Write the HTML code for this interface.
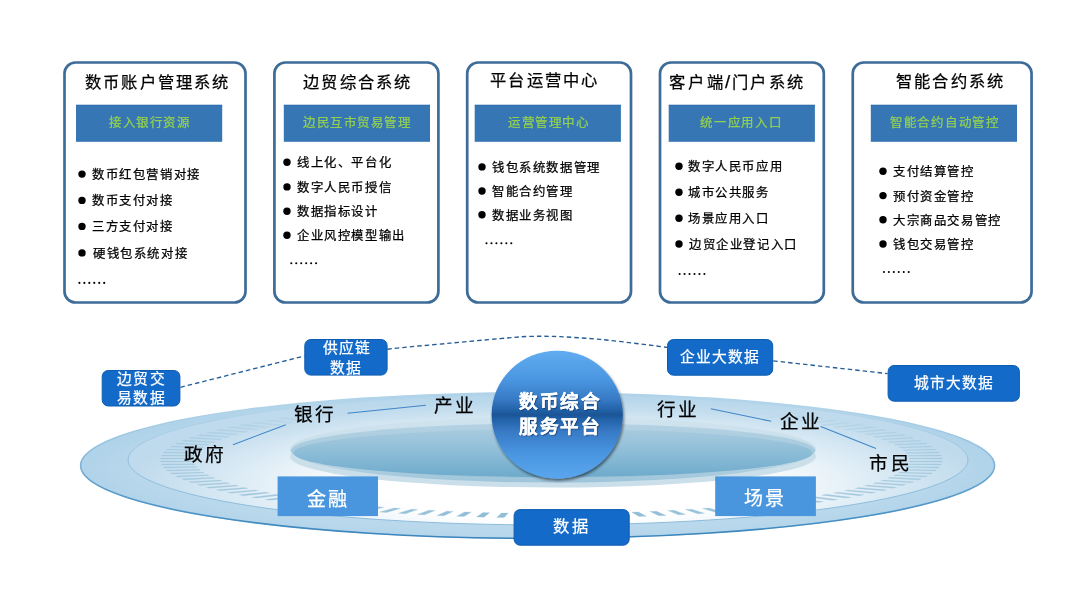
<!DOCTYPE html>
<html lang="zh-CN"><head><meta charset="utf-8">
<style>
html,body{margin:0;padding:0;background:#fff;}
body{width:1080px;height:608px;position:relative;overflow:hidden;font-family:'Liberation Sans',sans-serif;}
.t{position:absolute;line-height:1;white-space:nowrap;will-change:transform;-webkit-text-stroke:0.25px currentColor;}
svg{position:absolute;left:0;top:0;}
</style></head><body>

<svg width="1080" height="608" viewBox="0 0 1080 608">
<defs>
<linearGradient id="outerStroke" x1="0" y1="392" x2="0" y2="539" gradientUnits="userSpaceOnUse">
 <stop offset="0" stop-color="#9cc8e3" stop-opacity="0"/>
 <stop offset="0.35" stop-color="#7ab2d6" stop-opacity="0.5"/>
 <stop offset="0.6" stop-color="#5a9dcc" stop-opacity="0.9"/>
 <stop offset="1" stop-color="#3884bb" stop-opacity="1"/>
</linearGradient>
<radialGradient id="outerFill" gradientUnits="userSpaceOnUse" cx="540" cy="470" r="460" gradientTransform="translate(0,394) scale(1,0.16)">
 <stop offset="0" stop-color="#c6e0f0"/>
 <stop offset="0.85" stop-color="#b9d8ec"/>
 <stop offset="1" stop-color="#b0d3e9"/>
</radialGradient>
<radialGradient id="innerFill" gradientUnits="userSpaceOnUse" cx="557" cy="485" r="430" gradientTransform="translate(0,388) scale(1,0.2)">
 <stop offset="0" stop-color="#ffffff"/>
 <stop offset="0.42" stop-color="#ffffff"/>
 <stop offset="0.6" stop-color="#eef5fa"/>
 <stop offset="0.78" stop-color="#d8e9f4"/>
 <stop offset="0.9" stop-color="#c9e0ef"/>
 <stop offset="1" stop-color="#bfdaec"/>
</radialGradient>
<linearGradient id="p2" x1="0" y1="416.6" x2="0" y2="482.6" gradientUnits="userSpaceOnUse">
 <stop offset="0" stop-color="#d0e4ee"/>
 <stop offset="0.6" stop-color="#c4dce8"/>
 <stop offset="0.85" stop-color="#a9cbde"/>
 <stop offset="1" stop-color="#9ec4d9"/>
</linearGradient>
<linearGradient id="pm" x1="0" y1="423" x2="0" y2="478" gradientUnits="userSpaceOnUse">
 <stop offset="0" stop-color="#b4d2e3"/>
 <stop offset="1" stop-color="#9bc2d8"/>
</linearGradient>
<linearGradient id="p3" x1="0" y1="429" x2="0" y2="477" gradientUnits="userSpaceOnUse">
 <stop offset="0" stop-color="#a8cbdf"/>
 <stop offset="0.5" stop-color="#8dbdd7"/>
 <stop offset="1" stop-color="#6eaacb"/>
</linearGradient>
<linearGradient id="circ" x1="0" y1="350.7" x2="0" y2="478.7" gradientUnits="userSpaceOnUse">
 <stop offset="0" stop-color="#60acf1"/>
 <stop offset="0.22" stop-color="#4c97e1"/>
 <stop offset="0.38" stop-color="#377ac5"/>
 <stop offset="0.46" stop-color="#2363a9"/>
 <stop offset="0.5" stop-color="#1a5596"/>
 <stop offset="0.54" stop-color="#2363a9"/>
 <stop offset="0.63" stop-color="#377ac5"/>
 <stop offset="0.8" stop-color="#4a95e0"/>
 <stop offset="1" stop-color="#5aa6ee"/>
</linearGradient>
<radialGradient id="circEdge" cx="0.5" cy="0.5" r="0.5">
 <stop offset="0.82" stop-color="#000" stop-opacity="0"/>
 <stop offset="1" stop-color="#0a2a50" stop-opacity="0.10"/>
</radialGradient>
<filter id="shadow" x="-20%" y="-20%" width="140%" height="140%">
 <feGaussianBlur in="SourceAlpha" stdDeviation="1.5"/>
 <feOffset dx="0.5" dy="1.5" result="b"/>
 <feComponentTransfer><feFuncA type="linear" slope="0.55"/></feComponentTransfer>
 <feMerge><feMergeNode/><feMergeNode in="SourceGraphic"/></feMerge>
</filter>
<linearGradient id="ringStroke" x1="0" y1="395" x2="0" y2="525" gradientUnits="userSpaceOnUse">
 <stop offset="0" stop-color="#98c3de" stop-opacity="0"/>
 <stop offset="0.3" stop-color="#98c3de" stop-opacity="0.5"/>
 <stop offset="0.5" stop-color="#92c0dc" stop-opacity="1"/>
 <stop offset="1" stop-color="#8cbcda" stop-opacity="1"/>
</linearGradient>
<linearGradient id="topShade" x1="0" y1="392" x2="0" y2="422" gradientUnits="userSpaceOnUse">
 <stop offset="0" stop-color="#afd2e9" stop-opacity="0.85"/>
 <stop offset="0.5" stop-color="#b8d8ec" stop-opacity="0.35"/>
 <stop offset="1" stop-color="#c0dcee" stop-opacity="0"/>
</linearGradient>
</defs>
<rect x="64.5" y="62.5" width="181" height="240" rx="11" ry="11" fill="#fff" stroke="#3e6c99" stroke-width="2.7"/>
<rect x="274.4" y="62.5" width="164" height="240" rx="11" ry="11" fill="#fff" stroke="#3e6c99" stroke-width="2.7"/>
<rect x="467.2" y="62.5" width="163.8" height="240" rx="11" ry="11" fill="#fff" stroke="#3e6c99" stroke-width="2.7"/>
<rect x="660" y="62.5" width="163.8" height="240" rx="11" ry="11" fill="#fff" stroke="#3e6c99" stroke-width="2.7"/>
<rect x="852.75" y="62.5" width="178.8" height="240" rx="11" ry="11" fill="#fff" stroke="#3e6c99" stroke-width="2.7"/>
<rect x="76" y="104.8" width="146.2" height="37" fill="#3676b4"/>
<rect x="76" y="104.8" width="146.2" height="1" fill="#2d69a8" opacity="0.6"/>
<rect x="283.8" y="104.8" width="146.2" height="37" fill="#3676b4"/>
<rect x="283.8" y="104.8" width="146.2" height="1" fill="#2d69a8" opacity="0.6"/>
<rect x="474.7" y="104.8" width="146.2" height="37" fill="#3676b4"/>
<rect x="474.7" y="104.8" width="146.2" height="1" fill="#2d69a8" opacity="0.6"/>
<rect x="668.7" y="104.8" width="146.2" height="37" fill="#3676b4"/>
<rect x="668.7" y="104.8" width="146.2" height="1" fill="#2d69a8" opacity="0.6"/>
<rect x="870.8" y="104.8" width="146.2" height="37" fill="#3676b4"/>
<rect x="870.8" y="104.8" width="146.2" height="1" fill="#2d69a8" opacity="0.6"/>
<circle cx="82" cy="174.1" r="3.7" fill="#000"/>
<circle cx="82" cy="200.4" r="3.7" fill="#000"/>
<circle cx="82" cy="226.4" r="3.7" fill="#000"/>
<circle cx="82" cy="252.9" r="3.7" fill="#000"/>
<circle cx="287" cy="162.3" r="3.7" fill="#000"/>
<circle cx="287" cy="186.9" r="3.7" fill="#000"/>
<circle cx="287" cy="211.3" r="3.7" fill="#000"/>
<circle cx="287" cy="235.3" r="3.7" fill="#000"/>
<circle cx="482" cy="166.9" r="3.7" fill="#000"/>
<circle cx="482" cy="191" r="3.7" fill="#000"/>
<circle cx="482" cy="214.8" r="3.7" fill="#000"/>
<circle cx="679" cy="166.2" r="3.7" fill="#000"/>
<circle cx="679" cy="192.2" r="3.7" fill="#000"/>
<circle cx="679" cy="218.2" r="3.7" fill="#000"/>
<circle cx="679" cy="244" r="3.7" fill="#000"/>
<circle cx="883" cy="171.2" r="3.7" fill="#000"/>
<circle cx="883" cy="195.6" r="3.7" fill="#000"/>
<circle cx="883" cy="219.8" r="3.7" fill="#000"/>
<circle cx="883" cy="244" r="3.7" fill="#000"/>
<circle cx="79.40" cy="282.9" r="1.05" fill="#000"/>
<circle cx="84.36" cy="282.9" r="1.05" fill="#000"/>
<circle cx="89.32" cy="282.9" r="1.05" fill="#000"/>
<circle cx="94.28" cy="282.9" r="1.05" fill="#000"/>
<circle cx="99.24" cy="282.9" r="1.05" fill="#000"/>
<circle cx="104.20" cy="282.9" r="1.05" fill="#000"/>
<circle cx="291.30" cy="263.3" r="1.05" fill="#000"/>
<circle cx="296.26" cy="263.3" r="1.05" fill="#000"/>
<circle cx="301.22" cy="263.3" r="1.05" fill="#000"/>
<circle cx="306.18" cy="263.3" r="1.05" fill="#000"/>
<circle cx="311.14" cy="263.3" r="1.05" fill="#000"/>
<circle cx="316.10" cy="263.3" r="1.05" fill="#000"/>
<circle cx="486.50" cy="243.3" r="1.05" fill="#000"/>
<circle cx="491.46" cy="243.3" r="1.05" fill="#000"/>
<circle cx="496.42" cy="243.3" r="1.05" fill="#000"/>
<circle cx="501.38" cy="243.3" r="1.05" fill="#000"/>
<circle cx="506.34" cy="243.3" r="1.05" fill="#000"/>
<circle cx="511.30" cy="243.3" r="1.05" fill="#000"/>
<circle cx="679.60" cy="274" r="1.05" fill="#000"/>
<circle cx="684.56" cy="274" r="1.05" fill="#000"/>
<circle cx="689.52" cy="274" r="1.05" fill="#000"/>
<circle cx="694.48" cy="274" r="1.05" fill="#000"/>
<circle cx="699.44" cy="274" r="1.05" fill="#000"/>
<circle cx="704.40" cy="274" r="1.05" fill="#000"/>
<circle cx="883.90" cy="272" r="1.05" fill="#000"/>
<circle cx="888.86" cy="272" r="1.05" fill="#000"/>
<circle cx="893.82" cy="272" r="1.05" fill="#000"/>
<circle cx="898.78" cy="272" r="1.05" fill="#000"/>
<circle cx="903.74" cy="272" r="1.05" fill="#000"/>
<circle cx="908.70" cy="272" r="1.05" fill="#000"/>
<ellipse cx="537.6" cy="465.5" rx="457.6" ry="73.5" fill="url(#outerFill)"/>
<ellipse cx="537.6" cy="465.5" rx="457" ry="72.9" fill="none" stroke="url(#outerStroke)" stroke-width="1.6"/>
<ellipse cx="548" cy="460" rx="420" ry="65" fill="url(#innerFill)" stroke="url(#ringStroke)" stroke-width="1"/>
<ellipse cx="537.6" cy="465.5" rx="456.8" ry="72.8" fill="url(#topShade)"/>
<polygon points="909.45,460.89 942.45,460.96 942.25,462.07 909.27,461.91" fill="#7cb1cf" stroke="#7cb1cf" stroke-width="0.2" fill-opacity="0.43" stroke-opacity="0.43"/>
<polygon points="908.65,463.69 941.57,464.00 940.98,465.11 908.11,464.71" fill="#7cb1cf" stroke="#7cb1cf" stroke-width="0.2" fill-opacity="0.43" stroke-opacity="0.43"/>
<polygon points="906.87,466.47 939.63,467.02 938.65,468.12 905.97,467.49" fill="#7cb1cf" stroke="#7cb1cf" stroke-width="0.2" fill-opacity="0.43" stroke-opacity="0.43"/>
<polygon points="904.12,469.24 936.62,470.02 935.25,471.12 902.86,470.25" fill="#7cb1cf" stroke="#7cb1cf" stroke-width="0.2" fill-opacity="0.44" stroke-opacity="0.44"/>
<polygon points="900.39,471.99 932.56,473.00 930.80,474.08 898.79,472.99" fill="#7cb1cf" stroke="#7cb1cf" stroke-width="0.2" fill-opacity="0.45" stroke-opacity="0.45"/>
<polygon points="895.72,474.70 927.45,475.94 925.32,477.01 893.77,475.69" fill="#7cb1cf" stroke="#7cb1cf" stroke-width="0.2" fill-opacity="0.46" stroke-opacity="0.46"/>
<polygon points="890.10,477.37 921.31,478.84 918.80,479.88 887.80,478.34" fill="#7cb1cf" stroke="#7cb1cf" stroke-width="0.2" fill-opacity="0.47" stroke-opacity="0.47"/>
<polygon points="883.55,480.00 914.16,481.68 911.28,482.71 880.92,480.95" fill="#7cb1cf" stroke="#7cb1cf" stroke-width="0.2" fill-opacity="0.49" stroke-opacity="0.49"/>
<polygon points="876.09,482.57 906.01,484.47 902.78,485.47 873.13,483.49" fill="#7cb1cf" stroke="#7cb1cf" stroke-width="0.2" fill-opacity="0.50" stroke-opacity="0.50"/>
<polygon points="867.74,485.08 896.89,487.18 893.31,488.16 864.46,485.98" fill="#7cb1cf" stroke="#7cb1cf" stroke-width="0.2" fill-opacity="0.52" stroke-opacity="0.52"/>
<polygon points="858.53,487.51 886.83,489.83 882.91,490.78 854.94,488.39" fill="#7cb1cf" stroke="#7cb1cf" stroke-width="0.2" fill-opacity="0.54" stroke-opacity="0.54"/>
<polygon points="848.47,489.88 875.84,492.39 871.59,493.31 844.58,490.72" fill="#7cb1cf" stroke="#7cb1cf" stroke-width="0.2" fill-opacity="0.56" stroke-opacity="0.56"/>
<polygon points="837.60,492.16 863.97,494.86 859.40,495.75 833.42,492.97" fill="#7cb1cf" stroke="#7cb1cf" stroke-width="0.2" fill-opacity="0.58" stroke-opacity="0.58"/>
<polygon points="825.94,494.35 851.24,497.24 846.37,498.09 821.48,495.13" fill="#7cb1cf" stroke="#7cb1cf" stroke-width="0.2" fill-opacity="0.60" stroke-opacity="0.60"/>
<polygon points="813.54,496.45 837.69,499.52 832.52,500.33 808.81,497.20" fill="#7cb1cf" stroke="#7cb1cf" stroke-width="0.2" fill-opacity="0.63" stroke-opacity="0.63"/>
<polygon points="800.41,498.45 823.36,501.69 817.91,502.45 795.43,499.16" fill="#7cb1cf" stroke="#7cb1cf" stroke-width="0.2" fill-opacity="0.65" stroke-opacity="0.65"/>
<polygon points="786.60,500.35 808.28,503.74 802.57,504.46 781.38,501.01" fill="#7cb1cf" stroke="#7cb1cf" stroke-width="0.2" fill-opacity="0.67" stroke-opacity="0.67"/>
<polygon points="772.15,502.13 792.49,505.67 786.54,506.35 766.70,502.76" fill="#7cb1cf" stroke="#7cb1cf" stroke-width="0.2" fill-opacity="0.69" stroke-opacity="0.69"/>
<polygon points="757.10,503.80 776.05,507.48 769.86,508.11 751.43,504.38" fill="#7cb1cf" stroke="#7cb1cf" stroke-width="0.2" fill-opacity="0.71" stroke-opacity="0.71"/>
<polygon points="741.48,505.35 758.99,509.16 752.59,509.74 735.62,505.88" fill="#7cb1cf" stroke="#7cb1cf" stroke-width="0.2" fill-opacity="0.73" stroke-opacity="0.73"/>
<polygon points="725.34,506.77 741.36,510.70 734.76,511.23 719.29,507.26" fill="#7cb1cf" stroke="#7cb1cf" stroke-width="0.2" fill-opacity="0.75" stroke-opacity="0.75"/>
<polygon points="708.72,508.06 723.21,512.11 716.43,512.59 702.51,508.51" fill="#7cb1cf" stroke="#7cb1cf" stroke-width="0.2" fill-opacity="0.77" stroke-opacity="0.77"/>
<polygon points="691.67,509.23 704.59,513.37 697.65,513.80 685.32,509.62" fill="#7cb1cf" stroke="#7cb1cf" stroke-width="0.2" fill-opacity="0.79" stroke-opacity="0.79"/>
<polygon points="674.24,510.26 685.55,514.48 678.47,514.86 667.76,510.60" fill="#7cb1cf" stroke="#7cb1cf" stroke-width="0.2" fill-opacity="0.80" stroke-opacity="0.80"/>
<polygon points="656.47,511.15 666.14,515.45 658.95,515.77 649.88,511.44" fill="#7cb1cf" stroke="#7cb1cf" stroke-width="0.2" fill-opacity="0.82" stroke-opacity="0.82"/>
<polygon points="638.41,511.90 646.42,516.26 639.12,516.52 631.73,512.14" fill="#7cb1cf" stroke="#7cb1cf" stroke-width="0.2" fill-opacity="0.83" stroke-opacity="0.83"/>
<polygon points="620.12,512.51 626.44,516.92 619.06,517.13 613.36,512.70" fill="#7cb1cf" stroke="#7cb1cf" stroke-width="0.2" fill-opacity="0.84" stroke-opacity="0.84"/>
<polygon points="601.63,512.97 606.25,517.43 598.81,517.57 594.82,513.11" fill="#7cb1cf" stroke="#7cb1cf" stroke-width="0.2" fill-opacity="0.84" stroke-opacity="0.84"/>
<polygon points="583.01,513.29 585.92,517.77 578.43,517.86 576.16,513.37" fill="#7cb1cf" stroke="#7cb1cf" stroke-width="0.2" fill-opacity="0.85" stroke-opacity="0.85"/>
<polygon points="564.31,513.47 565.49,517.96 557.98,517.99 557.44,513.49" fill="#7cb1cf" stroke="#7cb1cf" stroke-width="0.2" fill-opacity="0.85" stroke-opacity="0.85"/>
<polygon points="545.56,513.49 545.02,517.99 537.51,517.96 538.69,513.47" fill="#7cb1cf" stroke="#7cb1cf" stroke-width="0.2" fill-opacity="0.85" stroke-opacity="0.85"/>
<polygon points="526.84,513.37 524.57,517.86 517.08,517.77 519.99,513.29" fill="#7cb1cf" stroke="#7cb1cf" stroke-width="0.2" fill-opacity="0.85" stroke-opacity="0.85"/>
<polygon points="508.18,513.11 504.19,517.57 496.75,517.43 501.37,512.97" fill="#7cb1cf" stroke="#7cb1cf" stroke-width="0.2" fill-opacity="0.84" stroke-opacity="0.84"/>
<polygon points="489.64,512.70 483.94,517.13 476.56,516.92 482.88,512.51" fill="#7cb1cf" stroke="#7cb1cf" stroke-width="0.2" fill-opacity="0.84" stroke-opacity="0.84"/>
<polygon points="471.27,512.14 463.88,516.52 456.58,516.26 464.59,511.90" fill="#7cb1cf" stroke="#7cb1cf" stroke-width="0.2" fill-opacity="0.83" stroke-opacity="0.83"/>
<polygon points="453.12,511.44 444.05,515.77 436.86,515.45 446.53,511.15" fill="#7cb1cf" stroke="#7cb1cf" stroke-width="0.2" fill-opacity="0.82" stroke-opacity="0.82"/>
<polygon points="435.24,510.60 424.53,514.86 417.45,514.48 428.76,510.26" fill="#7cb1cf" stroke="#7cb1cf" stroke-width="0.2" fill-opacity="0.80" stroke-opacity="0.80"/>
<polygon points="417.68,509.62 405.35,513.80 398.41,513.37 411.33,509.23" fill="#7cb1cf" stroke="#7cb1cf" stroke-width="0.2" fill-opacity="0.79" stroke-opacity="0.79"/>
<polygon points="400.49,508.51 386.57,512.59 379.79,512.11 394.28,508.06" fill="#7cb1cf" stroke="#7cb1cf" stroke-width="0.2" fill-opacity="0.77" stroke-opacity="0.77"/>
<polygon points="383.71,507.26 368.24,511.23 361.64,510.70 377.66,506.77" fill="#7cb1cf" stroke="#7cb1cf" stroke-width="0.2" fill-opacity="0.75" stroke-opacity="0.75"/>
<polygon points="367.38,505.88 350.41,509.74 344.01,509.16 361.52,505.35" fill="#7cb1cf" stroke="#7cb1cf" stroke-width="0.2" fill-opacity="0.73" stroke-opacity="0.73"/>
<polygon points="351.57,504.38 333.14,508.11 326.95,507.48 345.90,503.80" fill="#7cb1cf" stroke="#7cb1cf" stroke-width="0.2" fill-opacity="0.71" stroke-opacity="0.71"/>
<polygon points="336.30,502.76 316.46,506.35 310.51,505.67 330.85,502.13" fill="#7cb1cf" stroke="#7cb1cf" stroke-width="0.2" fill-opacity="0.69" stroke-opacity="0.69"/>
<polygon points="321.62,501.01 300.43,504.46 294.72,503.74 316.40,500.35" fill="#7cb1cf" stroke="#7cb1cf" stroke-width="0.2" fill-opacity="0.67" stroke-opacity="0.67"/>
<polygon points="307.57,499.16 285.09,502.45 279.64,501.69 302.59,498.45" fill="#7cb1cf" stroke="#7cb1cf" stroke-width="0.2" fill-opacity="0.65" stroke-opacity="0.65"/>
<polygon points="294.19,497.20 270.48,500.33 265.31,499.52 289.46,496.45" fill="#7cb1cf" stroke="#7cb1cf" stroke-width="0.2" fill-opacity="0.63" stroke-opacity="0.63"/>
<polygon points="281.52,495.13 256.63,498.09 251.76,497.24 277.06,494.35" fill="#7cb1cf" stroke="#7cb1cf" stroke-width="0.2" fill-opacity="0.60" stroke-opacity="0.60"/>
<polygon points="269.58,492.97 243.60,495.75 239.03,494.86 265.40,492.16" fill="#7cb1cf" stroke="#7cb1cf" stroke-width="0.2" fill-opacity="0.58" stroke-opacity="0.58"/>
<polygon points="258.42,490.72 231.41,493.31 227.16,492.39 254.53,489.88" fill="#7cb1cf" stroke="#7cb1cf" stroke-width="0.2" fill-opacity="0.56" stroke-opacity="0.56"/>
<polygon points="248.06,488.39 220.09,490.78 216.17,489.83 244.47,487.51" fill="#7cb1cf" stroke="#7cb1cf" stroke-width="0.2" fill-opacity="0.54" stroke-opacity="0.54"/>
<polygon points="238.54,485.98 209.69,488.16 206.11,487.18 235.26,485.08" fill="#7cb1cf" stroke="#7cb1cf" stroke-width="0.2" fill-opacity="0.52" stroke-opacity="0.52"/>
<polygon points="229.87,483.49 200.22,485.47 196.99,484.47 226.91,482.57" fill="#7cb1cf" stroke="#7cb1cf" stroke-width="0.2" fill-opacity="0.50" stroke-opacity="0.50"/>
<polygon points="222.08,480.95 191.72,482.71 188.84,481.68 219.45,480.00" fill="#7cb1cf" stroke="#7cb1cf" stroke-width="0.2" fill-opacity="0.49" stroke-opacity="0.49"/>
<polygon points="215.20,478.34 184.20,479.88 181.69,478.84 212.90,477.37" fill="#7cb1cf" stroke="#7cb1cf" stroke-width="0.2" fill-opacity="0.47" stroke-opacity="0.47"/>
<polygon points="209.23,475.69 177.68,477.01 175.55,475.94 207.28,474.70" fill="#7cb1cf" stroke="#7cb1cf" stroke-width="0.2" fill-opacity="0.46" stroke-opacity="0.46"/>
<polygon points="204.21,472.99 172.20,474.08 170.44,473.00 202.61,471.99" fill="#7cb1cf" stroke="#7cb1cf" stroke-width="0.2" fill-opacity="0.45" stroke-opacity="0.45"/>
<polygon points="200.14,470.25 167.75,471.12 166.38,470.02 198.88,469.24" fill="#7cb1cf" stroke="#7cb1cf" stroke-width="0.2" fill-opacity="0.44" stroke-opacity="0.44"/>
<polygon points="197.03,467.49 164.35,468.12 163.37,467.02 196.13,466.47" fill="#7cb1cf" stroke="#7cb1cf" stroke-width="0.2" fill-opacity="0.43" stroke-opacity="0.43"/>
<polygon points="194.89,464.71 162.02,465.11 161.43,464.00 194.35,463.69" fill="#7cb1cf" stroke="#7cb1cf" stroke-width="0.2" fill-opacity="0.43" stroke-opacity="0.43"/>
<polygon points="193.73,461.91 160.75,462.07 160.55,460.96 193.55,460.89" fill="#7cb1cf" stroke="#7cb1cf" stroke-width="0.2" fill-opacity="0.43" stroke-opacity="0.43"/>
<polygon points="193.55,459.11 160.55,459.04 160.75,457.93 193.73,458.09" fill="#7cb1cf" stroke="#7cb1cf" stroke-width="0.2" fill-opacity="0.41" stroke-opacity="0.41"/>
<polygon points="194.35,456.31 161.43,456.00 162.02,454.89 194.89,455.29" fill="#7cb1cf" stroke="#7cb1cf" stroke-width="0.2" fill-opacity="0.39" stroke-opacity="0.39"/>
<polygon points="196.13,453.53 163.37,452.98 164.35,451.88 197.03,452.51" fill="#7cb1cf" stroke="#7cb1cf" stroke-width="0.2" fill-opacity="0.37" stroke-opacity="0.37"/>
<polygon points="198.88,450.76 166.38,449.98 167.75,448.88 200.14,449.75" fill="#7cb1cf" stroke="#7cb1cf" stroke-width="0.2" fill-opacity="0.34" stroke-opacity="0.34"/>
<polygon points="202.61,448.01 170.44,447.00 172.20,445.92 204.21,447.01" fill="#7cb1cf" stroke="#7cb1cf" stroke-width="0.2" fill-opacity="0.33" stroke-opacity="0.33"/>
<polygon points="207.28,445.30 175.55,444.06 177.68,442.99 209.23,444.31" fill="#7cb1cf" stroke="#7cb1cf" stroke-width="0.2" fill-opacity="0.31" stroke-opacity="0.31"/>
<polygon points="212.90,442.63 181.69,441.16 184.20,440.12 215.20,441.66" fill="#7cb1cf" stroke="#7cb1cf" stroke-width="0.2" fill-opacity="0.29" stroke-opacity="0.29"/>
<polygon points="219.45,440.00 188.84,438.32 191.72,437.29 222.08,439.05" fill="#7cb1cf" stroke="#7cb1cf" stroke-width="0.2" fill-opacity="0.27" stroke-opacity="0.27"/>
<polygon points="226.91,437.43 196.99,435.53 200.22,434.53 229.87,436.51" fill="#7cb1cf" stroke="#7cb1cf" stroke-width="0.2" fill-opacity="0.25" stroke-opacity="0.25"/>
<polygon points="235.26,434.92 206.11,432.82 209.69,431.84 238.54,434.02" fill="#7cb1cf" stroke="#7cb1cf" stroke-width="0.2" fill-opacity="0.23" stroke-opacity="0.23"/>
<polygon points="244.47,432.49 216.17,430.17 220.09,429.22 248.06,431.61" fill="#7cb1cf" stroke="#7cb1cf" stroke-width="0.2" fill-opacity="0.21" stroke-opacity="0.21"/>
<polygon points="254.53,430.12 227.16,427.61 231.41,426.69 258.42,429.28" fill="#7cb1cf" stroke="#7cb1cf" stroke-width="0.2" fill-opacity="0.19" stroke-opacity="0.19"/>
<polygon points="265.40,427.84 239.03,425.14 243.60,424.25 269.58,427.03" fill="#7cb1cf" stroke="#7cb1cf" stroke-width="0.2" fill-opacity="0.17" stroke-opacity="0.17"/>
<polygon points="277.06,425.65 251.76,422.76 256.63,421.91 281.52,424.87" fill="#7cb1cf" stroke="#7cb1cf" stroke-width="0.2" fill-opacity="0.14" stroke-opacity="0.14"/>
<polygon points="289.46,423.55 265.31,420.48 270.48,419.67 294.19,422.80" fill="#7cb1cf" stroke="#7cb1cf" stroke-width="0.2" fill-opacity="0.12" stroke-opacity="0.12"/>
<polygon points="302.59,421.55 279.64,418.31 285.09,417.55 307.57,420.84" fill="#7cb1cf" stroke="#7cb1cf" stroke-width="0.2" fill-opacity="0.10" stroke-opacity="0.10"/>
<polygon points="316.40,419.65 294.72,416.26 300.43,415.54 321.62,418.99" fill="#7cb1cf" stroke="#7cb1cf" stroke-width="0.2" fill-opacity="0.07" stroke-opacity="0.07"/>
<polygon points="330.85,417.87 310.51,414.33 316.46,413.65 336.30,417.24" fill="#7cb1cf" stroke="#7cb1cf" stroke-width="0.2" fill-opacity="0.05" stroke-opacity="0.05"/>
<polygon points="345.90,416.20 326.95,412.52 333.14,411.89 351.57,415.62" fill="#7cb1cf" stroke="#7cb1cf" stroke-width="0.2" fill-opacity="0.02" stroke-opacity="0.02"/>
<polygon points="751.43,415.62 769.86,411.89 776.05,412.52 757.10,416.20" fill="#7cb1cf" stroke="#7cb1cf" stroke-width="0.2" fill-opacity="0.02" stroke-opacity="0.02"/>
<polygon points="766.70,417.24 786.54,413.65 792.49,414.33 772.15,417.87" fill="#7cb1cf" stroke="#7cb1cf" stroke-width="0.2" fill-opacity="0.05" stroke-opacity="0.05"/>
<polygon points="781.38,418.99 802.57,415.54 808.28,416.26 786.60,419.65" fill="#7cb1cf" stroke="#7cb1cf" stroke-width="0.2" fill-opacity="0.07" stroke-opacity="0.07"/>
<polygon points="795.43,420.84 817.91,417.55 823.36,418.31 800.41,421.55" fill="#7cb1cf" stroke="#7cb1cf" stroke-width="0.2" fill-opacity="0.10" stroke-opacity="0.10"/>
<polygon points="808.81,422.80 832.52,419.67 837.69,420.48 813.54,423.55" fill="#7cb1cf" stroke="#7cb1cf" stroke-width="0.2" fill-opacity="0.12" stroke-opacity="0.12"/>
<polygon points="821.48,424.87 846.37,421.91 851.24,422.76 825.94,425.65" fill="#7cb1cf" stroke="#7cb1cf" stroke-width="0.2" fill-opacity="0.14" stroke-opacity="0.14"/>
<polygon points="833.42,427.03 859.40,424.25 863.97,425.14 837.60,427.84" fill="#7cb1cf" stroke="#7cb1cf" stroke-width="0.2" fill-opacity="0.17" stroke-opacity="0.17"/>
<polygon points="844.58,429.28 871.59,426.69 875.84,427.61 848.47,430.12" fill="#7cb1cf" stroke="#7cb1cf" stroke-width="0.2" fill-opacity="0.19" stroke-opacity="0.19"/>
<polygon points="854.94,431.61 882.91,429.22 886.83,430.17 858.53,432.49" fill="#7cb1cf" stroke="#7cb1cf" stroke-width="0.2" fill-opacity="0.21" stroke-opacity="0.21"/>
<polygon points="864.46,434.02 893.31,431.84 896.89,432.82 867.74,434.92" fill="#7cb1cf" stroke="#7cb1cf" stroke-width="0.2" fill-opacity="0.23" stroke-opacity="0.23"/>
<polygon points="873.13,436.51 902.78,434.53 906.01,435.53 876.09,437.43" fill="#7cb1cf" stroke="#7cb1cf" stroke-width="0.2" fill-opacity="0.25" stroke-opacity="0.25"/>
<polygon points="880.92,439.05 911.28,437.29 914.16,438.32 883.55,440.00" fill="#7cb1cf" stroke="#7cb1cf" stroke-width="0.2" fill-opacity="0.27" stroke-opacity="0.27"/>
<polygon points="887.80,441.66 918.80,440.12 921.31,441.16 890.10,442.63" fill="#7cb1cf" stroke="#7cb1cf" stroke-width="0.2" fill-opacity="0.29" stroke-opacity="0.29"/>
<polygon points="893.77,444.31 925.32,442.99 927.45,444.06 895.72,445.30" fill="#7cb1cf" stroke="#7cb1cf" stroke-width="0.2" fill-opacity="0.31" stroke-opacity="0.31"/>
<polygon points="898.79,447.01 930.80,445.92 932.56,447.00 900.39,448.01" fill="#7cb1cf" stroke="#7cb1cf" stroke-width="0.2" fill-opacity="0.33" stroke-opacity="0.33"/>
<polygon points="902.86,449.75 935.25,448.88 936.62,449.98 904.12,450.76" fill="#7cb1cf" stroke="#7cb1cf" stroke-width="0.2" fill-opacity="0.34" stroke-opacity="0.34"/>
<polygon points="905.97,452.51 938.65,451.88 939.63,452.98 906.87,453.53" fill="#7cb1cf" stroke="#7cb1cf" stroke-width="0.2" fill-opacity="0.37" stroke-opacity="0.37"/>
<polygon points="908.11,455.29 940.98,454.89 941.57,456.00 908.65,456.31" fill="#7cb1cf" stroke="#7cb1cf" stroke-width="0.2" fill-opacity="0.39" stroke-opacity="0.39"/>
<polygon points="909.27,458.09 942.25,457.93 942.45,459.04 909.45,459.11" fill="#7cb1cf" stroke="#7cb1cf" stroke-width="0.2" fill-opacity="0.41" stroke-opacity="0.41"/>
<ellipse cx="553" cy="456.5" rx="263" ry="31" fill="#cadfea"/>
<ellipse cx="553" cy="449.6" rx="263" ry="33" fill="url(#p2)"/>
<ellipse cx="553" cy="450.6" rx="262" ry="27.5" fill="url(#pm)"/>
<ellipse cx="553" cy="453" rx="259.5" ry="24" fill="url(#p3)"/>
<line x1="233" y1="444.7" x2="285.8" y2="424.7" stroke="#3f86c8" stroke-width="1.1"/>
<line x1="347.5" y1="413.3" x2="425.9" y2="405.3" stroke="#3f86c8" stroke-width="1.1"/>
<line x1="710.8" y1="408.7" x2="771.3" y2="421.3" stroke="#3f86c8" stroke-width="1.1"/>
<line x1="820.7" y1="426.6" x2="876" y2="448.4" stroke="#3f86c8" stroke-width="1.1"/>
<g filter="url(#shadow)"><ellipse cx="557.2" cy="414.7" rx="65.6" ry="64" fill="url(#circ)"/></g>
<rect x="277.6" y="476.4" width="100.4" height="39.7" fill="#4a96de"/>
<rect x="715.2" y="476.4" width="100.7" height="39.7" fill="#4a96de"/>
<path d="M180.4 387.3 L304.4 356" stroke="#245d97" stroke-width="1.35" stroke-dasharray="4.5 3" fill="none"/>
<path d="M380,350.2 C383.3,349.8 388.3,349.0 400,347.8 C411.7,346.6 433.3,344.7 450,343.2 C466.7,341.7 486.7,339.7 500,338.6 C513.3,337.5 520.0,336.7 530,336.4 C540.0,336.1 548.3,336.2 560,336.7 C571.7,337.2 586.7,338.2 600,339.4 C613.3,340.6 628.8,342.6 640,343.9 C651.2,345.2 661.2,346.6 667,347.4 C672.8,348.2 673.7,348.4 675,348.6" stroke="#245d97" stroke-width="1.35" stroke-dasharray="4.5 3" fill="none"/>
<path d="M773.2 360.8 L887.6 373.6" stroke="#245d97" stroke-width="1.35" stroke-dasharray="4.5 3" fill="none"/>
<rect x="102.2" y="370.5" width="77.7" height="35.5" rx="6" ry="6" fill="#136ac8" stroke="#0e5cb0" stroke-width="1"/>
<rect x="304.8" y="339.5" width="82.30000000000001" height="35.60000000000002" rx="6" ry="6" fill="#136ac8" stroke="#0e5cb0" stroke-width="1"/>
<rect x="667.5" y="339.5" width="105.20000000000005" height="35.69999999999999" rx="6" ry="6" fill="#136ac8" stroke="#0e5cb0" stroke-width="1"/>
<rect x="888.1" y="365.5" width="131.29999999999995" height="35.69999999999999" rx="6" ry="6" fill="#136ac8" stroke="#0e5cb0" stroke-width="1"/>
<rect x="514.1" y="509.6" width="115.10000000000002" height="35.60000000000002" rx="6" ry="6" fill="#136ac8" stroke="#0e5cb0" stroke-width="1"/>
</svg>
<div class="t" style="left:84.80px;top:74.20px;font-size:16.29px;letter-spacing:2.2px;font-weight:500;color:#000;">数币账户管理系统</div>
<div class="t" style="left:302.70px;top:74.40px;font-size:16.29px;letter-spacing:2.26px;font-weight:500;color:#000;">边贸综合系统</div>
<div class="t" style="left:489.70px;top:71.80px;font-size:16.29px;letter-spacing:2.26px;font-weight:500;color:#000;">平台运营中心</div>
<div class="t" style="left:669.00px;top:73.50px;font-size:16.29px;letter-spacing:2.85px;font-weight:500;color:#000;">客户端</div>
<div class="t" style="left:725.00px;top:72.60px;font-size:18.64px;letter-spacing:0px;font-weight:500;color:#000;">/</div>
<div class="t" style="left:732.40px;top:73.50px;font-size:16.29px;letter-spacing:2.43px;font-weight:500;color:#000;">门户系统</div>
<div class="t" style="left:895.50px;top:73.10px;font-size:16.29px;letter-spacing:2.2px;font-weight:500;color:#000;">智能合约系统</div>
<div class="t" style="left:109.00px;top:116.90px;font-size:12.47px;letter-spacing:1.6px;font-weight:500;color:#92d050;">接入银行资源</div>
<div class="t" style="left:303.30px;top:116.90px;font-size:12.47px;letter-spacing:1.53px;font-weight:500;color:#92d050;">边民互市贸易管理</div>
<div class="t" style="left:508.00px;top:116.90px;font-size:12.47px;letter-spacing:1.54px;font-weight:500;color:#92d050;">运营管理中心</div>
<div class="t" style="left:700.30px;top:116.90px;font-size:12.47px;letter-spacing:1.8px;font-weight:500;color:#92d050;">统一应用入口</div>
<div class="t" style="left:889.50px;top:116.90px;font-size:12.47px;letter-spacing:1.71px;font-weight:500;color:#92d050;">智能合约自动管控</div>
<div class="t" style="left:183.90px;top:445.70px;font-size:18.66px;letter-spacing:1.8px;font-weight:500;color:#000;">政府</div>
<div class="t" style="left:294.00px;top:405.50px;font-size:18.66px;letter-spacing:1.6px;font-weight:500;color:#000;">银行</div>
<div class="t" style="left:433.70px;top:396.90px;font-size:18.66px;letter-spacing:2.2px;font-weight:500;color:#000;">产业</div>
<div class="t" style="left:657.00px;top:401.00px;font-size:18.66px;letter-spacing:1.9px;font-weight:500;color:#000;">行业</div>
<div class="t" style="left:779.50px;top:412.50px;font-size:18.66px;letter-spacing:1.9px;font-weight:500;color:#000;">企业</div>
<div class="t" style="left:869.00px;top:454.50px;font-size:18.66px;letter-spacing:2.6px;font-weight:500;color:#000;">市民</div>
<div class="t" style="left:307.00px;top:489.50px;font-size:19px;letter-spacing:2.0px;font-weight:500;color:#fff;">金融</div>
<div class="t" style="left:744.20px;top:488.70px;font-size:19px;letter-spacing:1.6px;font-weight:500;color:#fff;">场景</div>
<div class="t" style="left:552.80px;top:518.20px;font-size:16.29px;letter-spacing:2.6px;font-weight:500;color:#fff;">数据</div>
<div class="t" style="left:519.40px;top:393.30px;font-size:18.56px;letter-spacing:1.73px;font-weight:700;color:#fff;text-shadow:1px 1px 1px rgba(0,25,70,0.55);">数币综合</div>
<div class="t" style="left:519.40px;top:418.00px;font-size:18.56px;letter-spacing:1.63px;font-weight:700;color:#fff;text-shadow:1px 1px 1px rgba(0,25,70,0.55);">服务平台</div>
<div class="t" style="left:116.90px;top:371.50px;font-size:14.74px;letter-spacing:1.3px;font-weight:500;color:#fff;">边贸交</div>
<div class="t" style="left:116.90px;top:390.80px;font-size:14.74px;letter-spacing:1.3px;font-weight:500;color:#fff;">易数据</div>
<div class="t" style="left:322.80px;top:340.80px;font-size:14.74px;letter-spacing:0.8px;font-weight:500;color:#fff;">供应链</div>
<div class="t" style="left:329.80px;top:360.50px;font-size:14.74px;letter-spacing:1.0px;font-weight:500;color:#fff;">数据</div>
<div class="t" style="left:680.40px;top:350.10px;font-size:14.74px;letter-spacing:1.03px;font-weight:500;color:#fff;">企业大数据</div>
<div class="t" style="left:913.70px;top:375.50px;font-size:14.74px;letter-spacing:1.07px;font-weight:500;color:#fff;">城市大数据</div>
<div class="t" style="left:91.80px;top:169.10px;font-size:12.37px;letter-spacing:1.6px;font-weight:500;color:#000;">数币红包营销对接</div>
<div class="t" style="left:91.80px;top:195.40px;font-size:12.37px;letter-spacing:1.6px;font-weight:500;color:#000;">数币支付对接</div>
<div class="t" style="left:91.80px;top:221.40px;font-size:12.37px;letter-spacing:1.6px;font-weight:500;color:#000;">三方支付对接</div>
<div class="t" style="left:92.80px;top:247.90px;font-size:12.37px;letter-spacing:1.6px;font-weight:500;color:#000;">硬钱包系统对接</div>
<div class="t" style="left:296.60px;top:157.30px;font-size:12.37px;letter-spacing:1.6px;font-weight:500;color:#000;">线上化、平台化</div>
<div class="t" style="left:296.60px;top:181.90px;font-size:12.37px;letter-spacing:1.6px;font-weight:500;color:#000;">数字人民币授信</div>
<div class="t" style="left:296.60px;top:206.30px;font-size:12.37px;letter-spacing:1.6px;font-weight:500;color:#000;">数据指标设计</div>
<div class="t" style="left:296.60px;top:230.30px;font-size:12.37px;letter-spacing:1.6px;font-weight:500;color:#000;">企业风控模型输出</div>
<div class="t" style="left:491.60px;top:161.90px;font-size:12.37px;letter-spacing:1.6px;font-weight:500;color:#000;">钱包系统数据管理</div>
<div class="t" style="left:491.60px;top:186.00px;font-size:12.37px;letter-spacing:1.6px;font-weight:500;color:#000;">智能合约管理</div>
<div class="t" style="left:491.60px;top:209.80px;font-size:12.37px;letter-spacing:1.6px;font-weight:500;color:#000;">数据业务视图</div>
<div class="t" style="left:687.90px;top:161.20px;font-size:12.37px;letter-spacing:1.6px;font-weight:500;color:#000;">数字人民币应用</div>
<div class="t" style="left:687.90px;top:187.20px;font-size:12.37px;letter-spacing:1.6px;font-weight:500;color:#000;">城市公共服务</div>
<div class="t" style="left:687.90px;top:213.20px;font-size:12.37px;letter-spacing:1.6px;font-weight:500;color:#000;">场景应用入口</div>
<div class="t" style="left:688.90px;top:239.00px;font-size:12.37px;letter-spacing:1.6px;font-weight:500;color:#000;">边贸企业登记入口</div>
<div class="t" style="left:892.60px;top:166.20px;font-size:12.37px;letter-spacing:1.6px;font-weight:500;color:#000;">支付结算管控</div>
<div class="t" style="left:892.60px;top:190.60px;font-size:12.37px;letter-spacing:1.6px;font-weight:500;color:#000;">预付资金管控</div>
<div class="t" style="left:892.60px;top:214.80px;font-size:12.37px;letter-spacing:1.6px;font-weight:500;color:#000;">大宗商品交易管控</div>
<div class="t" style="left:892.60px;top:239.00px;font-size:12.37px;letter-spacing:1.6px;font-weight:500;color:#000;">钱包交易管控</div>
</body></html>
